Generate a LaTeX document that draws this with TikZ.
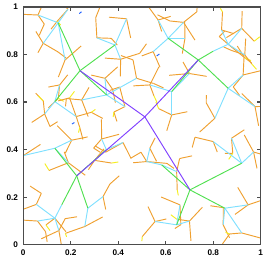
\documentclass[tikz,border=0pt]{standalone}
\usepackage{fontspec}
\setmainfont{Liberation Sans}

\definecolor{treepurple}{HTML}{8040FF}
\definecolor{treegreen}{HTML}{50E050}
\definecolor{treecyan}{HTML}{80E0FF}
\definecolor{treeorange}{HTML}{EFA030}
\definecolor{treeyellow}{HTML}{F5EE20}
\definecolor{treeblue}{HTML}{2060FF}

\tikzset{
  frameline/.style={line width=1.1pt, black!70},
  purpleline/.style={line width=0.8pt, treepurple},
  greenline/.style={line width=0.8pt, treegreen},
  cyanline/.style={line width=0.8pt, treecyan},
  orangeline/.style={line width=0.8pt, treeorange},
  yellowline/.style={line width=0.8pt, treeyellow},
  blueline/.style={line width=0.8pt, treeblue},
}

% cyan branches: start x/y, end x/y
\def\cyanlist{
  0.147/0.933/0.084/0.847, 0.147/0.933/0.176/0.777, 0.147/0.933/0.062/0.966, 0.147/0.933/0.188/0.990,
  0.386/0.840/0.435/0.950, 0.386/0.840/0.310/0.870, 0.386/0.840/0.410/0.780,
  0.133/0.602/0.153/0.672, 0.133/0.602/0.223/0.539, 0.133/0.602/0.090/0.550,
  0.351/0.630/0.477/0.700, 0.351/0.630/0.428/0.581, 0.351/0.630/0.344/0.700, 0.351/0.630/0.246/0.609,
  0.610/0.868/0.568/0.945, 0.610/0.868/0.681/0.868, 0.610/0.868/0.547/0.812, 0.610/0.868/0.675/0.935,
  0.800/0.814/0.863/0.843, 0.863/0.843/0.920/0.910, 0.863/0.843/0.835/0.903, 0.863/0.843/0.933/0.798,
  0.863/0.658/0.926/0.714, 0.863/0.658/0.976/0.581, 0.863/0.658/0.807/0.532,
  0.625/0.644/0.533/0.672, 0.625/0.644/0.625/0.546, 0.625/0.644/0.700/0.720,
  0.133/0.406/0.000/0.375, 0.133/0.406/0.204/0.440, 0.133/0.406/0.190/0.345,
  0.162/0.168/0.133/0.112, 0.133/0.112/0.055/0.170, 0.133/0.112/0.060/0.100, 0.133/0.112/0.150/0.060,
  0.272/0.154/0.336/0.203, 0.272/0.154/0.259/0.077,
  0.350/0.400/0.300/0.355, 0.350/0.400/0.420/0.430, 0.350/0.400/0.330/0.445,
  0.583/0.336/0.520/0.350, 0.520/0.350/0.533/0.406, 0.583/0.336/0.646/0.308,
  0.920/0.343/0.877/0.448, 0.920/0.343/0.800/0.434, 0.920/0.343/0.970/0.390,
  0.849/0.154/0.947/0.168, 0.849/0.154/0.842/0.084, 0.849/0.154/0.920/0.050,
  0.646/0.084/0.555/0.098, 0.646/0.084/0.660/0.168, 0.646/0.084/0.700/0.100}

\begin{document}
\begin{tikzpicture}[x=7.125cm, y=7.14cm, font=\fontsize{7}{8}\selectfont\bfseries]
  \useasboundingbox (-0.098,-0.084) rectangle (1.056,1.029);
  \pgfmathsetseed{23}

  % points of the top levels
  \coordinate (root) at (0.512,0.538);
  \coordinate (a) at (0.239,0.732);
  \coordinate (b) at (0.737,0.777);
  \coordinate (c) at (0.225,0.290);
  \coordinate (d) at (0.702,0.231);
  \coordinate (a1) at (0.147,0.933);
  \coordinate (a2) at (0.386,0.840);
  \coordinate (a3) at (0.133,0.602);
  \coordinate (a4) at (0.351,0.630);
  \coordinate (b1) at (0.610,0.868);
  \coordinate (b2) at (0.800,0.814);
  \coordinate (b3) at (0.863,0.658);
  \coordinate (b4) at (0.625,0.644);
  \coordinate (c1) at (0.133,0.406);
  \coordinate (c2) at (0.162,0.168);
  \coordinate (c3) at (0.272,0.154);
  \coordinate (c4) at (0.350,0.400);
  \coordinate (d1) at (0.583,0.336);
  \coordinate (d2) at (0.920,0.343);
  \coordinate (d3) at (0.849,0.154);
  \coordinate (d4) at (0.646,0.084);

  \begin{scope}
    \clip (0,0) rectangle (1,1);
    % orange and yellow twigs
    \foreach \ax/\ay/\bx/\by in \cyanlist {
      \pgfmathsetmacro\rot{360*rnd}
      \pgfmathtruncatemacro\nk{1+(rnd<0.55)}
      \foreach \k in {0,...,\nk} {
        \pgfmathsetmacro\ang{\rot+125*\k+35*rand}
        \pgfmathsetmacro\len{0.045+0.045*rnd}
        \draw[orangeline] (\bx,\by) -- ++(\ang:\len) coordinate (tip);
        \pgfmathtruncatemacro\more{rnd<0.25}
        \ifnum\more=1
          \pgfmathsetmacro\oang{\ang+100*rand}
          \pgfmathsetmacro\olen{0.03+0.03*rnd}
          \draw[orangeline] (tip) -- ++(\oang:\olen);
        \fi
        \pgfmathtruncatemacro\yel{rnd<0.18}
        \ifnum\yel=1
          \pgfmathsetmacro\yang{\ang+90*rand}
          \pgfmathsetmacro\ylen{0.015+0.02*rnd}
          \draw[yellowline] (tip) -- ++(\yang:\ylen);
        \fi
      }
    }
    \draw[blueline] (0.236,0.972) -- ++(40:0.012);
    \draw[blueline] (0.562,0.794) -- ++(35:0.014);
    \draw[blueline] (0.205,0.508) -- ++(30:0.012);

    % cyan branches
    \foreach \ax/\ay/\bx/\by in \cyanlist
      \draw[cyanline] (\ax,\ay) -- (\bx,\by);

    % green branches
    \foreach \p/\q in {a/a1,a/a2,a/a3,a/a4,b/b1,b/b2,b/b3,b/b4,
                       c/c1,c/c2,c/c3,c/c4,d/d1,d/d2,d/d3,d/d4}
      \draw[greenline] (\p) -- (\q);

    % purple trunk
    \foreach \q in {a,b,c,d}
      \draw[purpleline] (root) -- (\q);
  \end{scope}

  % frame, ticks and labels
  \draw[frameline] (0,0) rectangle (1,1);
  \foreach \t in {0,0.2,0.4,0.6,0.8,1} {
    \draw[frameline] (\t,0) -- ++(0,0.017);
    \draw[frameline] (\t,1) -- ++(0,-0.017);
    \draw[frameline] (0,\t) -- ++(0.017,0);
    \draw[frameline] (1,\t) -- ++(-0.017,0);
    \node[below=1pt] at (\t,0) {\t};
    \node[left=1pt] at (0,\t) {\t};
  }
\end{tikzpicture}
\end{document}
